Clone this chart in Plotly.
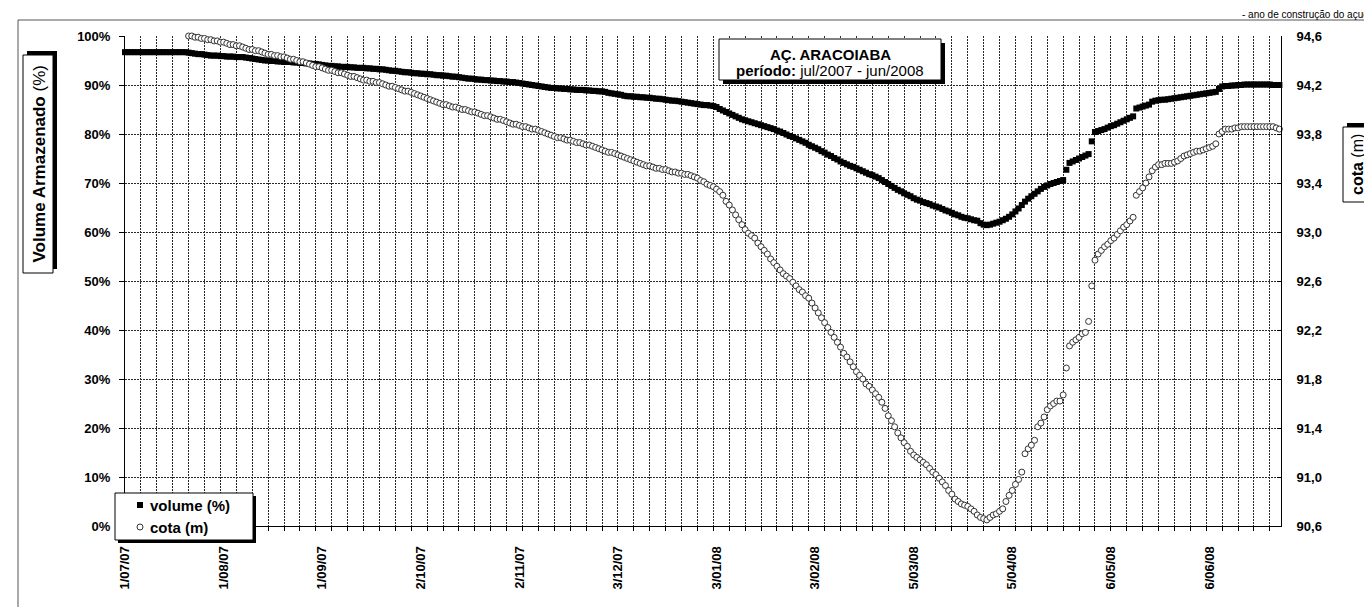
import plotly.graph_objects as go

# ---------------- DATA ----------------
# Daily series, day 0 = 1/07/2007
volume = [
    # d0-19
    96.7, 96.7, 96.7, 96.7, 96.7, 96.7, 96.7, 96.7, 96.7, 96.7,
    96.7, 96.7, 96.7, 96.7, 96.7, 96.7, 96.7, 96.7, 96.7, 96.7,
    # d20-29
    96.6, 96.5, 96.4, 96.3, 96.3, 96.2, 96.1, 96.0, 96.0, 96.0,
    # d30-36
    95.9, 95.9, 95.8, 95.8, 95.8, 95.7, 95.7,
    # d37-45
    95.7, 95.6, 95.5, 95.4, 95.3, 95.2, 95.1, 95.0, 95.0,
    # d46-51
    94.9, 94.9, 94.8, 94.8, 94.7, 94.7,
    # d52-60
    94.7, 94.6, 94.6, 94.5, 94.5, 94.4, 94.4, 94.3, 94.3,
    # d61-69
    94.2, 94.1, 94.0, 93.9, 93.9, 93.8, 93.8, 93.7, 93.7,
    # d70-81
    93.7, 93.6, 93.6, 93.5, 93.5, 93.5, 93.4, 93.4, 93.3, 93.3, 93.2, 93.2,
    # d82-93
    93.1, 93.0, 92.9, 92.9, 92.8, 92.7, 92.6, 92.6, 92.5, 92.4, 92.4, 92.3,
    # d94-105
    92.3, 92.2, 92.2, 92.1, 92.0, 92.0, 91.9, 91.9, 91.8, 91.7, 91.7, 91.6,
    # d106-111
    91.5, 91.4, 91.3, 91.3, 91.2, 91.1,
    # d112-122
    91.1, 91.0, 91.0, 90.9, 90.9, 90.8, 90.8, 90.7, 90.7, 90.6, 90.6,
    # d123-134
    90.5, 90.4, 90.3, 90.2, 90.1, 90.0, 89.9, 89.8, 89.7, 89.6, 89.5, 89.4,
    # d135-150
    89.4, 89.3, 89.3, 89.2, 89.2, 89.1, 89.1, 89.0, 89.0, 89.0, 88.9, 88.9,
    88.8, 88.8, 88.7, 88.7,
    # d151-158
    88.6, 88.4, 88.3, 88.2, 88.1, 88.0, 87.8, 87.7,
    # d159-170
    87.7, 87.6, 87.6, 87.5, 87.5, 87.4, 87.4, 87.3, 87.2, 87.2, 87.1, 87.0,
    # d171-184
    86.9, 86.8, 86.8, 86.7, 86.6, 86.5, 86.4, 86.3, 86.2, 86.1, 86.0, 85.9,
    85.9, 85.8,
    # d185-192
    85.7, 85.5, 85.1, 84.8, 84.5, 84.2, 83.9, 83.6,
    # d193-201
    83.3, 83.0, 82.8, 82.6, 82.4, 82.2, 82.0, 81.8, 81.6,
    # d202-213
    81.4, 81.2, 81.0, 80.7, 80.5, 80.2, 79.9, 79.6, 79.4, 79.1, 78.8, 78.5,
    # d214-219
    78.2, 77.8, 77.5, 77.2, 76.9, 76.5,
    # d220-225
    76.2, 75.8, 75.5, 75.1, 74.8, 74.4,
    # d226-231
    74.1, 73.8, 73.5, 73.3, 73.0, 72.7,
    # d232-237
    72.4, 72.1, 71.8, 71.6, 71.3, 71.0,
    # d238-243
    70.6, 70.2, 69.8, 69.4, 69.0, 68.6,
    # d244-249
    68.3, 67.9, 67.6, 67.3, 66.9, 66.6,
    # d250-255
    66.4, 66.1, 65.9, 65.7, 65.4, 65.2,
    # d256-263
    65.0, 64.7, 64.4, 64.2, 63.9, 63.6, 63.4, 63.1,
    # d264-270
    62.9, 62.8, 62.6, 62.4, 62.3, 61.8, 61.5,
    # d271-277
    61.4, 61.5, 61.7, 61.9, 62.1, 62.4, 62.7,
    # d278-286
    63.1, 63.6, 64.2, 64.8, 65.5, 66.2, 66.8, 67.3, 67.8,
    # d287-295
    68.3, 68.8, 69.2, 69.5, 69.8, 70.0, 70.2, 70.4, 70.6,
    # d296
    72.7,
    # d297-303
    74.1, 74.4, 74.7, 75.0, 75.3, 75.6, 75.9,
    # d304
    78.5,
    # d305-317
    80.4, 80.6, 80.8, 81.0, 81.3, 81.6, 81.8, 82.1, 82.4, 82.7, 83.0, 83.3, 83.6,
    # d318-322
    85.2, 85.4, 85.6, 85.8, 86.0,
    # d323-343
    86.6, 86.8, 86.9, 87.0, 87.0, 87.1, 87.2, 87.3, 87.4, 87.5, 87.6, 87.7,
    87.8, 87.9, 88.0, 88.1, 88.2, 88.3, 88.4, 88.5, 88.6,
    # d344-352
    89.2, 89.7, 89.8, 89.8, 89.9, 89.9, 90.0, 90.0, 90.1,
    # d353-363
    90.1, 90.1, 90.1, 90.1, 90.1, 90.1, 90.1, 90.1, 90.0, 90.0, 90.0,
]

COTA_INICIO = 20  # first day with a cota reading (21/07/2007)
cota = [
    # d20-27
    94.60, 94.60, 94.59, 94.59, 94.58, 94.58, 94.57, 94.57,
    # d28-33
    94.56, 94.56, 94.55, 94.55, 94.54, 94.53,
    # d34-39
    94.53, 94.52, 94.52, 94.51, 94.50, 94.49,
    # d40-45
    94.49, 94.48, 94.48, 94.47, 94.46, 94.45,
    # d46-51
    94.45, 94.44, 94.44, 94.43, 94.43, 94.42,
    # d52-57
    94.41, 94.41, 94.40, 94.39, 94.39, 94.38,
    # d58-63
    94.37, 94.36, 94.35, 94.35, 94.34, 94.33,
    # d64-69
    94.32, 94.32, 94.31, 94.30, 94.30, 94.29,
    # d70-75
    94.28, 94.27, 94.27, 94.26, 94.25, 94.24,
    # d76-81
    94.24, 94.23, 94.23, 94.22, 94.22, 94.21,
    # d82-87
    94.20, 94.19, 94.19, 94.18, 94.17, 94.16,
    # d88-93
    94.15, 94.15, 94.14, 94.13, 94.12, 94.11,
    # d94-99
    94.10, 94.09, 94.08, 94.07, 94.06, 94.05,
    # d100-105
    94.04, 94.04, 94.03, 94.02, 94.02, 94.01,
    # d106-111
    94.00, 94.00, 93.99, 93.98, 93.98, 93.97,
    # d112-117
    93.96, 93.95, 93.95, 93.94, 93.93, 93.92,
    # d118-123
    93.92, 93.91, 93.90, 93.89, 93.88, 93.88,
    # d124-129
    93.87, 93.86, 93.86, 93.85, 93.84, 93.84,
    # d130-135
    93.83, 93.82, 93.81, 93.80, 93.79, 93.78,
    # d136-141
    93.77, 93.77, 93.76, 93.75, 93.75, 93.74,
    # d142-147
    93.73, 93.73, 93.72, 93.71, 93.71, 93.70,
    # d148-153
    93.69, 93.68, 93.67, 93.66, 93.65, 93.65,
    # d154-159
    93.64, 93.63, 93.62, 93.61, 93.60, 93.59,
    # d160-165
    93.58, 93.57, 93.56, 93.55, 93.54, 93.54,
    # d166-171
    93.53, 93.52, 93.52, 93.51, 93.51, 93.50,
    # d172-177
    93.49, 93.49, 93.48, 93.48, 93.47, 93.47,
    # d178-183
    93.46, 93.45, 93.44, 93.42, 93.41, 93.39,
    # d184-189
    93.38, 93.37, 93.35, 93.33, 93.30, 93.25,
    # d190-195
    93.22, 93.18, 93.14, 93.10, 93.06, 93.02,
    # d196-201
    92.99, 92.97, 92.95, 92.91, 92.88, 92.85,
    # d202-207
    92.82, 92.78, 92.75, 92.72, 92.69, 92.66,
    # d208-213
    92.64, 92.62, 92.59, 92.56, 92.53, 92.51,
    # d214-219
    92.48, 92.46, 92.42, 92.38, 92.34, 92.30,
    # d220-225
    92.26, 92.22, 92.18, 92.14, 92.10, 92.06,
    # d226-231
    92.01, 91.98, 91.94, 91.90, 91.86, 91.83,
    # d232-237
    91.80, 91.76, 91.74, 91.71, 91.68, 91.65,
    # d238-243
    91.61, 91.56, 91.50, 91.46, 91.41, 91.36,
    # d244-249
    91.32, 91.28, 91.25, 91.21, 91.18, 91.16,
    # d250-255
    91.14, 91.12, 91.10, 91.07, 91.04, 91.02,
    # d256-273
    90.99, 90.96, 90.93, 90.89, 90.86, 90.82, 90.80, 90.78, 90.77, 90.76,
    90.74, 90.72, 90.69, 90.67, 90.66, 90.65, 90.67, 90.69,
    # d274-282
    90.70, 90.72, 90.74, 90.80, 90.85, 90.89, 90.94, 90.98, 91.04,
    # d283-295
    91.19, 91.23, 91.26, 91.30, 91.41, 91.44, 91.49, 91.55, 91.58, 91.60,
    91.62, 91.62, 91.67,
    # d296-305
    91.89, 92.07, 92.10, 92.12, 92.14, 92.17, 92.18, 92.27, 92.56, 92.77,
    # d306-317
    92.82, 92.85, 92.88, 92.90, 92.93, 92.95, 92.98, 93.01, 93.04, 93.06,
    93.09, 93.12,
    # d318-343
    93.30, 93.33, 93.36, 93.40, 93.45, 93.50, 93.53, 93.55, 93.55, 93.56,
    93.56, 93.56, 93.57, 93.58, 93.60, 93.62, 93.63, 93.64, 93.65, 93.66,
    93.66, 93.67, 93.68, 93.69, 93.70, 93.72,
    # d344-352
    93.80, 93.82, 93.84, 93.84, 93.84, 93.85, 93.85, 93.86, 93.86,
    # d353-363
    93.86, 93.86, 93.86, 93.86, 93.86, 93.86, 93.86, 93.86, 93.86, 93.85, 93.84,
]

x_tickvals = [0, 31, 62, 93, 124, 155, 186, 217, 248, 279, 310, 341]
x_ticktext = ["1/07/07", "1/08/07", "1/09/07", "2/10/07", "2/11/07", "3/12/07",
              "3/01/08", "3/02/08", "5/03/08", "5/04/08", "6/05/08", "6/06/08"]
y2_tickvals = [90.6, 91.0, 91.4, 91.8, 92.2, 92.6, 93.0, 93.4, 93.8, 94.2, 94.6]
y2_ticktext = ["90,6", "91,0", "91,4", "91,8", "92,2", "92,6", "93,0", "93,4",
               "93,8", "94,2", "94,6"]

assert len(volume) == 364, len(volume)
assert len(cota) == 344, len(cota)

dias_volume = list(range(len(volume)))
dias_cota = list(range(COTA_INICIO, COTA_INICIO + len(cota)))

# ---------------- LAYOUT GEOMETRY ----------------
W, H = 1372, 607
L, R, T, B = 117, 99, 28, 89
PW, PH = W - L - R, H - T - B


def px(x):
    return (x - L) / PW


def py(y):
    return 1 - (y - T) / PH


FONT = "Liberation Sans, Arial, sans-serif"
GRID = "#2a2a2a"

fig = go.Figure()
fig.add_trace(go.Scatter(
    x=dias_volume, y=volume, mode="markers", name="volume (%)",
    marker=dict(symbol="square", size=6, color="black", line=dict(width=0)),
    cliponaxis=False, hoverinfo="skip"))
fig.add_trace(go.Scatter(
    x=dias_cota, y=cota, mode="markers", name="cota (m)", yaxis="y2",
    marker=dict(symbol="circle", size=6, color="white",
                line=dict(width=1, color="#333")),
    cliponaxis=False, hoverinfo="skip"))


def rect(x0, y0, x1, y1, fill, line_w=0, layer="above"):
    return dict(type="rect", xref="paper", yref="paper",
                x0=px(x0), x1=px(x1), y0=py(y1), y1=py(y0),
                fillcolor=fill, line=dict(color="black", width=line_w),
                layer=layer)


FRAME_TOP = 12
shapes = [
    # outer frame (top and left edges)
    dict(type="line", xref="paper", yref="paper", x0=px(10), x1=px(1380),
         y0=py(FRAME_TOP), y1=py(FRAME_TOP), line=dict(color="#555", width=1)),
    dict(type="line", xref="paper", yref="paper", x0=px(10), x1=px(10),
         y0=py(FRAME_TOP), y1=py(615), line=dict(color="#555", width=1)),
    # title box
    rect(715, 35, 937, 76, "black"),
    rect(711, 31, 933, 72, "white", 1),
    # left axis-title box (shadow to top/right)
    rect(19, 43, 49, 261, "black"),
    rect(15, 47, 45, 265, "white", 1),
    # right axis-title box
    rect(1339, 115, 1367, 190, "black"),
    rect(1335, 119, 1363, 194, "white", 1),
    # legend box
    rect(110, 488, 248, 535, "black"),
    rect(107, 485, 245, 532, "white", 1),
    # legend symbols
    dict(type="rect", xref="paper", yref="paper", x0=px(129), x1=px(135),
         y0=py(500), y1=py(494), fillcolor="black", line=dict(width=0),
         layer="above"),
    dict(type="circle", xref="paper", yref="paper", x0=px(129), x1=px(135),
         y0=py(522), y1=py(516), fillcolor="white",
         line=dict(color="#333", width=1), layer="above"),
]

annotations = [
    dict(text="<b>AÇ. ARACOIABA</b>", x=px(822), y=py(46.5),
         font=dict(size=15, family=FONT, color="black")),
    dict(text="<b>período:</b> jul/2007 - jun/2008", x=px(822), y=py(62.5),
         font=dict(size=15, family=FONT, color="black")),
    dict(text="<b>Volume Armazenado</b> (%)", x=px(30.5), y=py(156),
         textangle=-90, font=dict(size=17, family=FONT, color="black")),
    dict(text="<b>cota</b> (m)", x=px(1349.5), y=py(156.5),
         textangle=-90, font=dict(size=16, family=FONT, color="black")),
    dict(text="<b>volume (%)</b>", x=px(140), y=py(497.5), xanchor="left",
         font=dict(size=15, family=FONT, color="black")),
    dict(text="<b>cota (m)</b>", x=px(140), y=py(519.5), xanchor="left",
         font=dict(size=15, family=FONT, color="black")),
    dict(text="- ano de construção do açude", x=px(1368), y=py(0),
         xanchor="right", yanchor="top", borderpad=0,
         font=dict(size=10, family=FONT, color="black")),
]
for a in annotations:
    a.update(xref="paper", yref="paper", showarrow=False)
    a.setdefault("xanchor", "center")
    a.setdefault("yanchor", "middle")

tickfont = dict(size=13, family=FONT, color="black", weight="bold")

fig.update_layout(
    width=W, height=H,
    margin=dict(l=L, r=R, t=T, b=B, autoexpand=False),
    paper_bgcolor="white", plot_bgcolor="white",
    showlegend=False,
    shapes=shapes, annotations=annotations,
    xaxis=dict(
        range=[0, 363.5], tickmode="array", tickvals=x_tickvals,
        ticktext=x_ticktext, tickangle=-90, tickfont=tickfont,
        showgrid=False, zeroline=False, showline=True, linecolor="black",
        linewidth=1, ticks="", ticklabelstandoff=14,
        minor=dict(dtick=5, tick0=0, showgrid=True, gridcolor=GRID,
                   griddash="2px,1px", gridwidth=1, ticks="outside",
                   ticklen=4, tickcolor="black"),
    ),
    yaxis=dict(
        range=[0, 100], tick0=0, dtick=10, ticksuffix="%", tickfont=tickfont,
        showgrid=True, gridcolor=GRID, griddash="2px,1px", gridwidth=1,
        zeroline=False, showline=True, linecolor="black", linewidth=1,
        ticks="outside", ticklen=5, tickcolor="black", ticklabelstandoff=6,
    ),
    yaxis2=dict(
        range=[90.6, 94.6], overlaying="y", side="right", tickmode="array",
        tickvals=y2_tickvals, ticktext=y2_ticktext, tickfont=tickfont,
        showgrid=False, zeroline=False, showline=True, linecolor="black",
        linewidth=1, ticks="inside", ticklen=4, tickcolor="black",
        ticklabelstandoff=12,
    ),
)

fig.write_html("out.html")
